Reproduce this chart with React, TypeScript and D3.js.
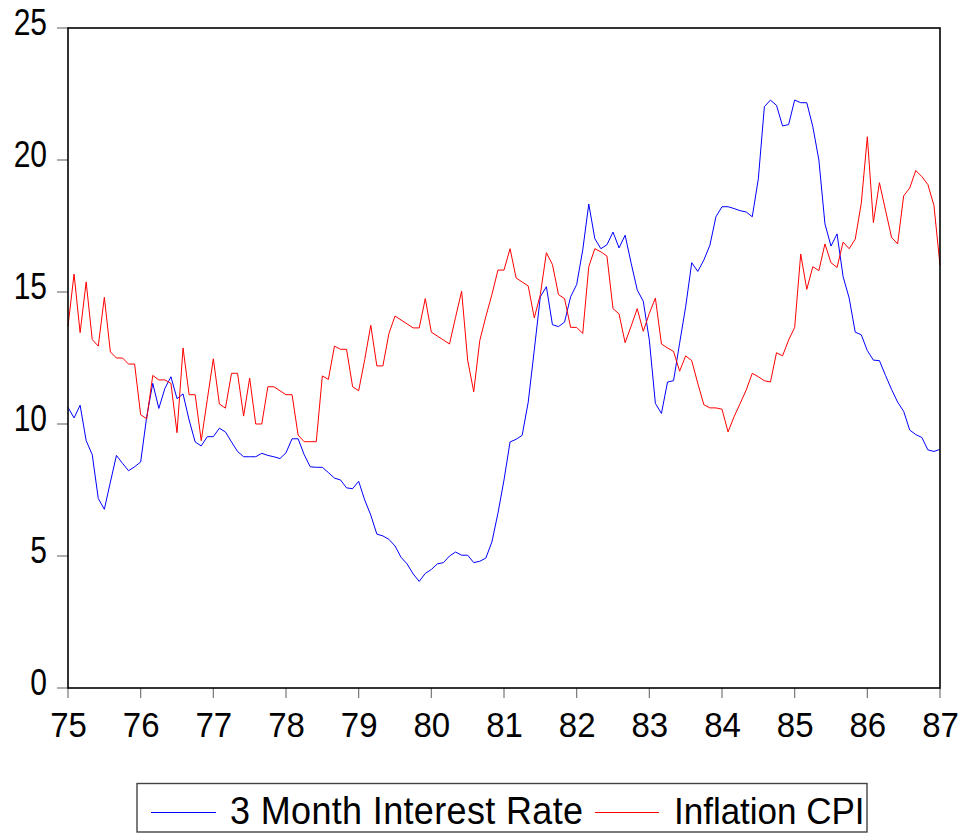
import React from 'react'
import { scaleLinear, line } from 'd3'

// monthly observations, 1975:01 .. 1987:01
const interestRate = [
  10.63, 10.23, 10.71, 9.37, 8.84, 7.18, 6.77, 7.8, 8.81, 8.51, 8.23, 8.38,
  8.56, 10.28, 11.54, 10.59, 11.35, 11.79, 10.96, 11.14, 10.15, 9.32, 9.17, 9.52,
  9.52, 9.84, 9.7, 9.32, 8.96, 8.76, 8.76, 8.76, 8.89, 8.81, 8.76, 8.69,
  8.91, 9.44, 9.44, 8.84, 8.38, 8.36, 8.36, 8.16, 7.95, 7.88, 7.58, 7.55,
  7.83, 7.12, 6.55, 5.83, 5.76, 5.63, 5.38, 4.95, 4.7, 4.32, 4.04, 4.34,
  4.49, 4.7, 4.75, 5.0, 5.15, 5.03, 5.03, 4.75, 4.8, 4.92, 5.53, 6.62,
  7.88, 9.32, 9.42, 9.57, 10.83, 12.8, 14.82, 15.2, 13.76, 13.69, 13.86, 14.82,
  15.28, 16.59, 18.33, 17.02, 16.64, 16.79, 17.27, 16.67, 17.15, 16.09, 15.08, 14.65,
  13.18, 10.78, 10.4, 11.59, 11.64, 13.06, 14.44, 16.11, 15.78, 16.21, 16.77, 17.85,
  18.23, 18.23, 18.16, 18.08, 18.03, 17.85, 19.29, 22.02, 22.27, 22.07, 21.29, 21.34,
  22.27, 22.17, 22.17, 21.26, 20.0, 17.58, 16.74, 17.2, 15.58, 14.77, 13.48, 13.38,
  12.78, 12.42, 12.4, 11.84, 11.31, 10.83, 10.48, 9.77, 9.6, 9.49, 9.02, 8.96,
  9.04
]

const inflationCPI = [
  13.71, 15.68, 13.46, 15.38, 13.2, 12.95, 14.8, 12.73, 12.5, 12.5, 12.27, 12.27,
  10.35, 10.2, 11.84, 11.67, 11.67, 11.54, 9.67, 12.88, 11.11, 11.11, 9.37, 10.92,
  12.47, 10.76, 10.6, 11.92, 11.92, 10.3, 11.74, 10.0, 10.0, 11.41, 11.41, 11.26,
  11.11, 11.11, 9.58, 9.33, 9.33, 9.33, 11.82, 11.69, 12.95, 12.83, 12.83, 11.41,
  11.26, 12.44, 13.74, 12.2, 12.2, 13.43, 14.09, 13.94, 13.79, 13.64, 13.64, 14.75,
  13.48, 13.33, 13.18, 13.03, 14.04, 15.03, 12.42, 11.22, 13.16, 14.07, 14.9, 15.83,
  15.83, 16.64, 15.53, 15.38, 15.23, 14.02, 14.9, 16.49, 16.04, 14.9, 14.75, 13.66,
  13.66, 13.43, 15.96, 16.64, 16.52, 16.36, 14.37, 14.17, 13.08, 13.71, 14.37, 13.51,
  14.19, 14.77, 13.03, 12.88, 12.75, 12.0, 12.58, 12.4, 11.54, 10.73, 10.61, 10.61,
  10.56, 9.7, 10.28, 10.78, 11.29, 11.92, 11.79, 11.64, 11.59, 12.7, 12.58, 13.18,
  13.66, 16.44, 15.1, 15.96, 15.81, 16.82, 16.11, 15.93, 16.89, 16.64, 17.0, 18.36,
  20.88, 17.63, 19.14, 18.1, 17.07, 16.82, 18.64, 18.94, 19.6, 19.37, 19.07, 18.28,
  16.01
]

const yearTicks = [75, 76, 77, 78, 79, 80, 81, 82, 83, 84, 85, 86, 87]
const valueTicks = [0, 5, 10, 15, 20, 25]

const seriesNames = ['3 Month Interest Rate', 'Inflation CPI']
const seriesColors = ['#0000ff', '#ff0000']

export default function App() {
  const margin = { top: 28, right: 20, bottom: 147, left: 68 }
  const width = 960
  const height = 835
  const plotW = width - margin.left - margin.right
  const plotH = height - margin.top - margin.bottom

  const x = scaleLinear().domain([75, 87]).range([margin.left, margin.left + plotW])
  const y = scaleLinear().domain([0, 25]).range([margin.top + plotH, margin.top])

  const lineGen = line<number>()
    .x((d, i) => x(75 + i / 12))
    .y(d => y(d))

  const font = "'Liberation Sans', Arial, sans-serif"
  const bottom = margin.top + plotH

  return (
    <svg width={width} height={height} style={{ position: 'absolute', left: 0, top: 0, background: '#fff' }}>
      <g fontFamily={font}>
        {valueTicks.map(t => (
          <g key={'y' + t}>
            <line x1={margin.left - 11} x2={margin.left} y1={y(t)} y2={y(t)} stroke="#777" strokeWidth={1.2} />
            {/* the original glyphs are a bit taller than wide */}
            <text transform={`translate(47,${y(t) + 6.5}) scale(1,1.2)`} textAnchor="end" fontSize={30}>{t}</text>
          </g>
        ))}
        {yearTicks.map(t => (
          <g key={'x' + t}>
            <line x1={x(t)} x2={x(t)} y1={bottom} y2={bottom + 10} stroke="#777" strokeWidth={1.2} />
            <text transform={`translate(${x(t) + 0.5},737) scale(1,1.06)`} textAnchor="middle" fontSize={33}>{t}</text>
          </g>
        ))}

        <path d={lineGen(interestRate) || ''} fill="none" stroke={seriesColors[0]} strokeWidth={1} />
        <path d={lineGen(inflationCPI) || ''} fill="none" stroke={seriesColors[1]} strokeWidth={1} />

        <rect x={margin.left} y={margin.top} width={plotW} height={plotH} fill="none" stroke="#000" strokeWidth={1.6} />

        {/* legend */}
        <rect x={137} y={783.5} width={730} height={48.5} fill="#fff" stroke="#444" strokeWidth={1.4} />
        <line x1={151} x2={216} y1={812.5} y2={812.5} stroke={seriesColors[0]} strokeWidth={1} />
        <text transform="translate(230,824) scale(1,1.06)" fontSize={36} textLength={353} lengthAdjust="spacing">{seriesNames[0]}</text>
        <line x1={595} x2={659} y1={812.5} y2={812.5} stroke={seriesColors[1]} strokeWidth={1} />
        <text transform="translate(674,824) scale(1,1.06)" fontSize={35}>{seriesNames[1]}</text>
      </g>
    </svg>
  )
}
